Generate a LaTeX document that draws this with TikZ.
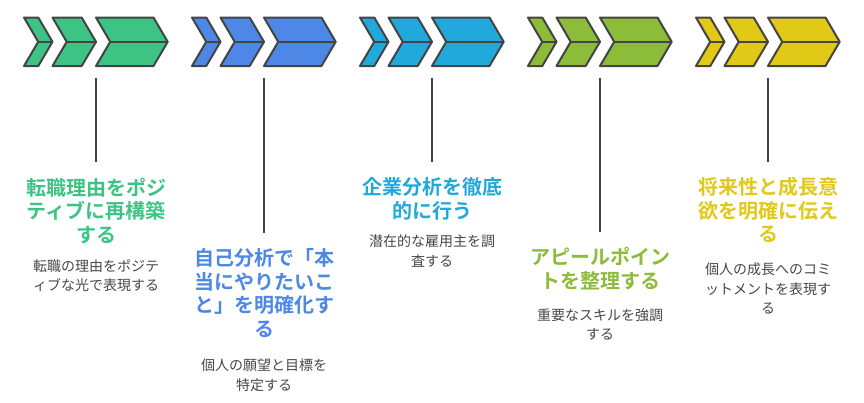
\documentclass[tikz,border=0pt]{standalone}
\usepackage{fontspec}
\newfontfamily\jp[BoldFont={Noto Sans CJK JP Bold}]{Noto Sans CJK JP}
\definecolor{cgreen}{RGB}{61,196,132}
\definecolor{cblue}{RGB}{78,136,230}
\definecolor{ccyan}{RGB}{33,169,219}
\definecolor{clime}{RGB}{141,188,58}
\definecolor{cyellow}{RGB}{224,201,23}
\definecolor{outl}{RGB}{68,68,68}
\definecolor{desccol}{RGB}{72,72,72}
\tikzset{
  chev/.style={draw=outl, line width=2pt, line join=round},
  conn/.style={draw=outl, line width=2pt},
  ttl/.style={font=\jp\bfseries\fontsize{20}{23.5}\selectfont, align=center, inner sep=0pt, anchor=north},
  dsc/.style={font=\jp\fontsize{14}{19.5}\selectfont, text=desccol, align=center, inner sep=0pt, anchor=north},
}
\newcommand\chevgrp[2]{%
  \begin{scope}[xshift=#1pt]
    \draw[chev, fill=#2] (0,17.5) -- (14.3,17.5) -- (28.5,41.8) -- (14.3,66) -- (0,66) -- (14.2,41.8) -- cycle;
    \draw[chev] (14.2,41.8) -- (28.5,41.8);
    \draw[chev, fill=#2] (28.5,17.5) -- (57.7,17.5) -- (72,41.8) -- (57.7,66) -- (28.5,66) -- (42.7,41.8) -- cycle;
    \draw[chev] (42.7,41.8) -- (72,41.8);
    \draw[chev, fill=#2] (72,17.5) -- (129.5,17.5) -- (143.7,41.8) -- (129.5,66) -- (72,66) -- (86.2,41.8) -- cycle;
    \draw[chev] (86.2,41.8) -- (143.7,41.8);
  \end{scope}}
\begin{document}
\begin{tikzpicture}[x=1pt,y=-1pt]
\useasboundingbox[fill=white] (0,0) rectangle (864,402);
\chevgrp{24}{cgreen}
\chevgrp{192}{cblue}
\chevgrp{360}{ccyan}
\chevgrp{528}{clime}
\chevgrp{696}{cyellow}
% anchors below chevrons
\coordinate (a1) at (96,77.5);
\coordinate (a2) at (264,77.5);
\coordinate (a3) at (432,77.5);
\coordinate (a4) at (600,77.5);
\coordinate (a5) at (768,77.5);
% titles
\node[ttl, text=cgreen] (t1) at (96,177.5) {転職理由をポジ\\ティブに再構築\\する};
\node[ttl, text=cblue] (t2) at (264,248.5) {自己分析で「本\\当にやりたいこ\\と」を明確化す\\る};
\node[ttl, text=ccyan] (t3) at (432,177.5) {企業分析を徹底\\的に行う};
\node[ttl, text=clime] (t4) at (600,247) {アピールポイン\\トを整理する};
\node[ttl, text=cyellow] (t5) at (768,177.5) {将来性と成長意\\欲を明確に伝え\\る};
% descriptions
\node[dsc] (d1) at (96,259) {転職の理由をポジテ\\ィブな光で表現する};
\node[dsc] (d2) at (264,358.8) {個人の願望と目標を\\特定する};
\node[dsc] (d3) at (432,234.7) {潜在的な雇用主を調\\査する};
\node[dsc] (d4) at (600,308) {重要なスキルを強調\\する};
\node[dsc] (d5) at (768,263) {個人の成長へのコミ\\ットメントを表現す\\る};
% connectors
\foreach \i in {1,...,5} {\draw[conn] (a\i) -- ([yshift=15.5pt]t\i.north);}
\end{tikzpicture}
\end{document}
